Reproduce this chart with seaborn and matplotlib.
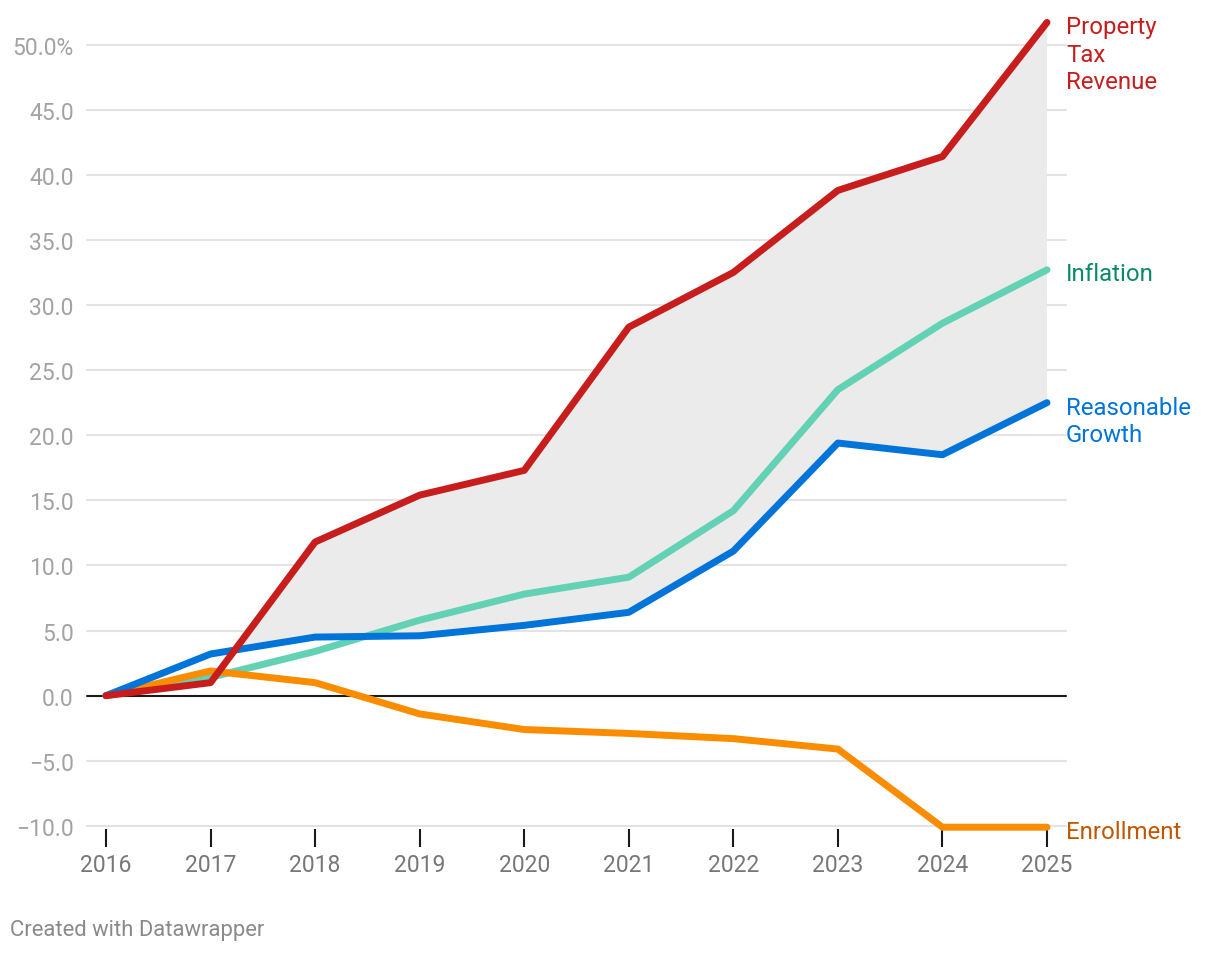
import numpy as np
import pandas as pd
import matplotlib
matplotlib.use("Agg")
import matplotlib.pyplot as plt
import seaborn as sns

years = [2016, 2017, 2018, 2019, 2020, 2021, 2022, 2023, 2024, 2025]
property_tax = [0.0, 1.0, 11.8, 15.4, 17.3, 28.3, 32.5, 38.8, 41.4, 51.7]
inflation = [0.0, 1.4, 3.4, 5.8, 7.8, 9.1, 14.2, 23.5, 28.6, 32.7]
reasonable_growth = [0.0, 3.2, 4.5, 4.6, 5.4, 6.4, 11.1, 19.4, 18.5, 22.5]
enrollment = [0.0, 1.9, 1.0, -1.4, -2.6, -2.9, -3.3, -4.1, -10.1, -10.1]

series_names = ["Inflation", "Enrollment", "Reasonable Growth", "Property Tax Revenue"]
series_values = [inflation, enrollment, reasonable_growth, property_tax]
line_colors = {"Property Tax Revenue": "#c71e1d", "Inflation": "#62d1b4",
               "Reasonable Growth": "#0074d9", "Enrollment": "#fa8c00"}
label_colors = {"Property Tax Revenue": "#c71e1d", "Inflation": "#0b8a6a",
                "Reasonable Growth": "#0074d9", "Enrollment": "#c25700"}
label_text = {"Property Tax Revenue": "Property\nTax\nRevenue", "Inflation": "Inflation",
              "Reasonable Growth": "Reasonable\nGrowth", "Enrollment": "Enrollment"}
yticks = [-10, -5, 0, 5, 10, 15, 20, 25, 30, 35, 40, 45, 50]
ytick_labels = ["\u221210.0", "\u22125.0", "0.0", "5.0", "10.0", "15.0", "20.0", "25.0",
                "30.0", "35.0", "40.0", "45.0", "50.0%"]

df = pd.DataFrame({
    "year": years * len(series_names),
    "value": sum(series_values, []),
    "series": sum([[n] * len(years) for n in series_names], []),
})

sns.set_theme(style="white")
plt.rcParams["font.family"] = ["Roboto", "DejaVu Sans"]

fig = plt.figure(figsize=(12.2, 9.54), dpi=100)
ax = fig.add_axes([87 / 1220, 1 - 829.5 / 954, (1066 - 87) / 1220, (829.5 - 19.5) / 954])

# shaded area between property tax and reasonable growth
pt = np.array(property_tax)
rg = np.array(reasonable_growth)
ax.fill_between(years, pt, rg, where=pt >= rg, interpolate=True,
                color="#ebebeb", linewidth=0, zorder=1)

for yt in yticks:
    if yt == 0:
        continue
    ax.axhline(yt, color="#e3e3e3", linewidth=1.5, zorder=0.5)
ax.axhline(0, color="#1a1a1a", linewidth=1.5, zorder=2)

sns.lineplot(data=df, x="year", y="value", hue="series", hue_order=series_names,
             palette=line_colors, linewidth=5, ax=ax, legend=False,
             solid_capstyle="round", solid_joinstyle="round", zorder=3)
for l in ax.lines:
    l.set_clip_on(False)

ax.set_xlim(2016 - 19 / 104.56, 2025 + 19 / 104.56)
ax.set_ylim(-10.2, 52)
for s in ax.spines.values():
    s.set_visible(False)

ax.set_xticks(years)
ax.set_xticklabels([str(y) for y in years], color="#777777", fontsize=16.5)
ax.tick_params(axis="x", bottom=True, length=13, width=1.5, color="#1a1a1a", pad=5)
ax.set_yticks(yticks)
ax.set_yticklabels(ytick_labels, color="#a3a3a3", fontsize=16.5)
ax.tick_params(axis="y", left=False, pad=3.5)
ax.set_xlabel("")
ax.set_ylabel("")

# end labels
label_pos = {"Property Tax Revenue": 51.7, "Inflation": 32.7,
             "Reasonable Growth": 22.5, "Enrollment": -10.1}
for name in series_names:
    multi = "\n" in label_text[name]
    ax.annotate(label_text[name], xy=(2025, label_pos[name]), xycoords="data",
                xytext=(19, 7 if multi else -4), textcoords="offset pixels",
                va="top" if multi else "center", ha="left",
                color=label_colors[name], fontsize=17.3, linespacing=1.25,
                annotation_clip=False)

fig.text(10 / 1220, 1 - 931 / 954, "Created with Datawrapper", color="#8a8a8a",
         fontsize=15.8, va="center", ha="left")

fig.savefig("out.png", dpi=100, facecolor="white")
